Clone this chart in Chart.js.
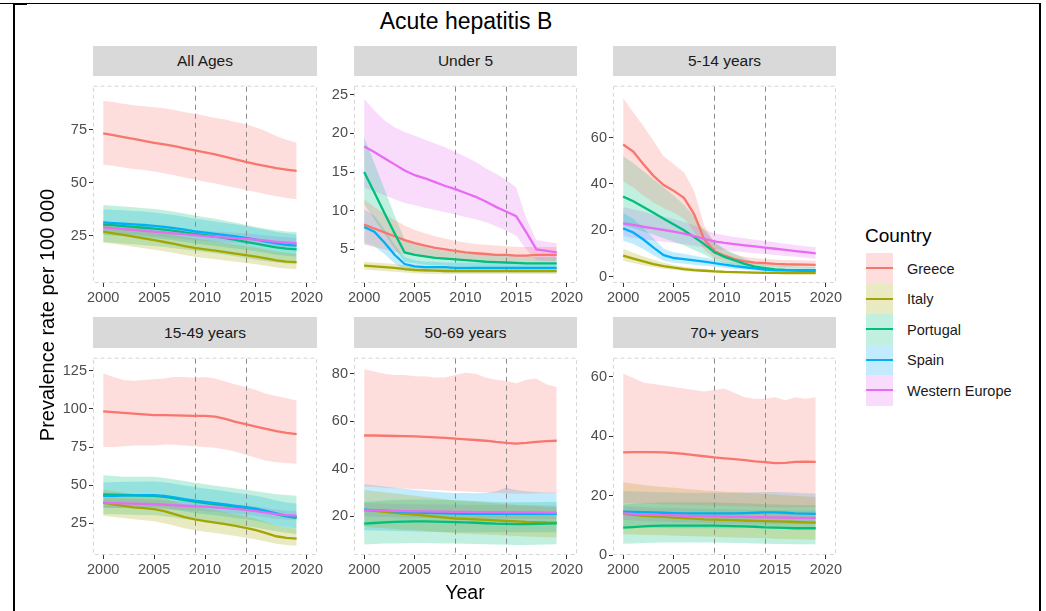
<!DOCTYPE html>
<html><head><meta charset="utf-8">
<script src="https://cdn.jsdelivr.net/npm/chart.js@4.4.1/dist/chart.umd.min.js"></script>
<style>
html,body{margin:0;padding:0;background:#fff;}
body{width:1046px;height:611px;position:relative;overflow:hidden;font-family:"Liberation Sans",Arial,sans-serif;}
.strip{position:absolute;background:#D9D9D9;color:#1A1A1A;font-size:15.5px;display:flex;align-items:center;justify-content:center;}
.cv{position:absolute;}
.txt{position:absolute;white-space:nowrap;color:#000;}
.ln{position:absolute;background:#000;}
</style></head><body>
<div class="ln" style="left:0;top:3px;width:1041px;height:1px;"></div>
<div class="ln" style="left:13px;top:3px;width:14px;height:2px;"></div>
<div class="ln" style="left:13px;top:3px;width:1.5px;height:608px;"></div>
<div class="ln" style="left:1039px;top:3px;width:2px;height:608px;"></div>
<div id="root"></div>
<script>
// ---------------- data ----------------
const years = [2000,2001,2002,2003,2004,2005,2006,2007,2008,2009,2010,2011,2012,2013,2014,2015,2016,2017,2018,2019];
const countries = ['Greece','Italy','Portugal','Spain','Western Europe'];
const countryColors = ['#F8766D','#A3A500','#00BF7D','#00B0F6','#E76BF3'];
const panelTitles = ['All Ages','Under 5','5-14 years','15-49 years','50-69 years','70+ years'];
const xTicks = [2000,2005,2010,2015,2020];
const refYears = [2009,2014];
const yTicksAllAges = [25,50,75];
const yTicksUnder5 = [5,10,15,20,25];
const yTicks5to14 = [0,20,40,60];
const yTicks15to49 = [25,50,75,100,125];
const yTicks50to69 = [20,40,60,80];
const yTicks70plus = [0,20,40,60];

// All Ages
const allAges_Greece    = [73.2,72.4,71.5,70.6,69.7,68.8,68.0,67.2,66.2,65.2,64.3,63.3,62.2,61.0,59.8,58.7,57.8,56.9,56.2,55.6];
const allAges_Greece_hi = [88.5,88.0,87.2,86.5,86.0,85.5,85.0,84.2,83.2,82.5,81.5,80.5,79.8,78.6,77.6,76.0,74.2,72.0,70.2,68.8];
const allAges_Greece_lo = [58.5,58.0,57.2,56.5,56.0,55.3,54.5,53.5,52.5,51.5,50.5,49.6,48.6,47.6,46.6,45.6,44.6,43.6,42.8,42.2];
const allAges_Italy     = [27.0,26.2,25.4,24.6,23.8,23.0,22.1,21.2,20.2,19.3,18.6,18.0,17.3,16.6,15.9,15.2,14.4,13.5,12.9,12.6];
const allAges_Italy_hi  = [31.5,30.6,29.8,29.0,28.2,27.4,26.5,25.6,24.6,23.7,23.0,22.4,21.6,20.9,20.2,19.5,18.6,17.6,17.0,16.6];
const allAges_Italy_lo  = [22.0,21.3,20.6,19.9,19.2,18.5,17.7,16.9,16.0,15.2,14.6,14.0,13.4,12.8,12.2,11.6,10.9,10.1,9.6,9.3];
const allAges_Portugal    = [30.3,30.0,29.6,29.2,28.8,28.4,27.9,27.3,26.6,25.9,25.3,24.6,23.9,23.1,22.2,21.3,20.4,19.6,19.0,18.6];
const allAges_Portugal_hi = [39.5,39.2,38.8,38.4,38.0,37.6,37.0,36.3,35.5,34.6,33.8,33.0,32.1,31.2,30.2,29.2,28.3,27.6,27.1,26.8];
const allAges_Portugal_lo = [22.0,21.7,21.3,21.0,20.6,20.2,19.7,19.2,18.6,18.0,17.4,16.8,16.1,15.4,14.6,13.8,13.0,12.4,12.0,11.7];
const allAges_Spain     = [31.3,31.0,30.7,30.4,30.1,29.7,29.2,28.6,27.9,27.1,26.5,25.9,25.3,24.7,24.0,23.2,22.3,21.4,20.8,20.4];
const allAges_Spain_hi  = [37.5,37.3,37.0,36.7,36.4,36.0,35.4,34.8,34.0,33.2,32.5,31.8,31.1,30.4,29.6,28.7,27.7,26.8,26.2,25.8];
const allAges_Spain_lo  = [25.5,25.2,24.9,24.6,24.3,23.9,23.4,22.8,22.1,21.4,20.8,20.2,19.6,19.0,18.4,17.7,16.9,16.1,15.6,15.2];
const allAges_WE        = [29.0,28.6,28.2,27.8,27.4,27.0,26.6,26.2,25.8,25.3,24.9,24.5,24.2,23.9,23.6,23.2,22.7,22.2,21.8,21.5];
const allAges_WE_hi     = [31.5,31.1,30.7,30.3,29.9,29.5,29.1,28.7,28.3,27.8,27.4,27.0,26.7,26.4,26.1,25.7,25.2,24.7,24.3,24.0];
const allAges_WE_lo     = [26.7,26.3,25.9,25.5,25.1,24.7,24.3,23.9,23.5,23.0,22.6,22.2,21.9,21.6,21.3,20.9,20.4,19.9,19.5,19.2];

// Under 5
const under5_Greece    = [8.2,7.7,7.2,6.7,6.2,5.8,5.5,5.2,5.0,4.8,4.6,4.5,4.4,4.3,4.3,4.2,4.2,4.3,4.3,4.3];
const under5_Greece_hi = [11.5,10.5,9.6,8.8,8.1,7.5,7.1,6.7,6.4,6.1,5.9,5.7,5.6,5.5,5.4,5.3,5.3,5.3,5.3,5.3];
const under5_Greece_lo = [5.6,5.3,5.0,4.7,4.4,4.2,4.0,3.9,3.8,3.7,3.6,3.5,3.5,3.4,3.4,3.4,3.4,3.4,3.4,3.4];
const under5_Italy     = [2.9,2.8,2.7,2.6,2.45,2.35,2.3,2.25,2.2,2.2,2.2,2.2,2.2,2.2,2.2,2.2,2.2,2.2,2.2,2.2];
const under5_Italy_hi  = [3.4,3.3,3.2,3.1,2.95,2.85,2.8,2.75,2.7,2.7,2.7,2.7,2.7,2.7,2.7,2.7,2.7,2.7,2.7,2.7];
const under5_Italy_lo  = [2.4,2.3,2.2,2.1,2.0,1.9,1.85,1.8,1.8,1.8,1.8,1.8,1.8,1.8,1.8,1.8,1.8,1.8,1.8,1.8];
const under5_Portugal    = [15.0,12.4,9.7,7.1,4.6,4.3,4.1,3.9,3.8,3.7,3.6,3.5,3.4,3.35,3.3,3.25,3.2,3.2,3.2,3.2];
const under5_Portugal_hi = [19.5,16.2,12.8,9.4,6.3,5.7,5.3,5.0,4.8,4.7,4.6,4.5,4.4,4.3,4.2,4.1,4.1,4.0,4.0,4.0];
const under5_Portugal_lo = [10.8,8.9,7.0,5.1,3.4,3.2,3.0,2.9,2.9,2.8,2.8,2.7,2.7,2.6,2.6,2.6,2.5,2.5,2.5,2.5];
const under5_Spain     = [7.9,7.3,5.9,4.3,3.1,2.8,2.7,2.7,2.7,2.6,2.6,2.6,2.6,2.6,2.6,2.6,2.6,2.6,2.6,2.6];
const under5_Spain_hi  = [10.2,9.4,7.6,5.6,4.0,3.6,3.4,3.4,3.3,3.3,3.3,3.3,3.3,3.3,3.3,3.3,3.3,3.3,3.3,3.3];
const under5_Spain_lo  = [5.8,5.4,4.4,3.2,2.3,2.1,2.1,2.1,2.0,2.0,2.0,2.0,2.0,2.0,2.0,2.0,2.0,2.0,2.0,2.0];
const under5_WE        = [18.3,17.6,16.8,16.0,15.2,14.6,14.2,13.7,13.2,12.8,12.3,11.8,11.2,10.5,9.9,9.3,7.2,5.0,4.8,4.6];
const under5_WE_hi     = [24.5,23.0,21.7,20.8,20.2,19.7,19.2,18.7,18.2,17.6,17.0,16.3,15.5,14.8,14.0,13.0,9.0,6.2,6.0,5.8];
const under5_WE_lo     = [13.0,12.5,12.0,11.5,11.0,10.7,10.4,10.1,9.8,9.5,9.2,8.9,8.5,8.0,7.4,6.8,5.0,3.6,3.5,3.5];

// 5-14 years
const age5to14_Greece    = [57.0,54.0,48.5,43.5,39.5,37.0,34.0,27.0,16.0,11.0,9.0,7.5,6.5,6.0,5.8,5.5,5.3,5.2,5.1,5.0];
const age5to14_Greece_hi = [77.0,71.0,65.0,58.5,52.0,48.5,45.0,37.0,22.0,14.5,11.5,9.5,8.5,8.0,7.6,7.3,7.1,7.0,6.9,6.8];
const age5to14_Greece_lo = [41.0,38.5,35.0,32.0,29.5,27.5,25.0,19.5,11.5,8.0,6.8,5.7,5.0,4.6,4.4,4.2,4.0,3.9,3.8,3.7];
const age5to14_Italy     = [9.0,7.7,6.5,5.4,4.5,3.8,3.2,2.8,2.5,2.2,2.0,1.9,1.8,1.7,1.6,1.6,1.5,1.5,1.5,1.5];
const age5to14_Italy_hi  = [12.0,10.3,8.7,7.2,6.0,5.0,4.2,3.7,3.3,2.9,2.6,2.5,2.3,2.2,2.1,2.1,2.0,2.0,2.0,2.0];
const age5to14_Italy_lo  = [6.8,5.8,4.9,4.1,3.4,2.9,2.4,2.1,1.9,1.7,1.5,1.4,1.3,1.2,1.2,1.1,1.1,1.1,1.1,1.1];
const age5to14_Portugal    = [34.5,32.5,30.0,27.5,25.0,22.5,20.0,17.0,14.0,10.5,8.5,7.0,5.5,4.3,3.6,3.1,2.9,2.8,2.8,2.8];
const age5to14_Portugal_hi = [52.0,49.0,45.5,42.0,38.5,35.0,31.0,26.0,20.0,15.0,12.0,9.8,7.8,6.3,5.4,4.8,4.5,4.3,4.2,4.1];
const age5to14_Portugal_lo = [22.0,21.0,19.5,18.0,16.5,15.0,13.5,11.5,9.5,7.2,5.8,4.8,3.8,3.0,2.5,2.2,2.0,1.9,1.9,1.9];
const age5to14_Spain     = [20.8,19.0,16.0,12.5,9.2,8.0,7.5,7.0,6.4,5.8,5.1,4.5,4.0,3.5,3.0,2.8,2.7,2.6,2.5,2.5];
const age5to14_Spain_hi  = [27.5,25.0,21.0,16.5,12.0,10.5,9.8,9.0,8.2,7.4,6.5,5.8,5.2,4.5,3.9,3.6,3.4,3.3,3.2,3.2];
const age5to14_Spain_lo  = [15.5,14.0,11.8,9.2,6.8,5.9,5.5,5.1,4.7,4.3,3.8,3.3,2.9,2.6,2.2,2.0,1.9,1.9,1.8,1.8];
const age5to14_WE        = [23.0,22.3,21.5,20.8,20.1,19.4,18.5,17.5,16.3,15.2,14.5,14.0,13.5,13.0,12.5,12.0,11.5,11.0,10.5,10.0];
const age5to14_WE_hi     = [30.0,29.0,28.0,26.8,25.8,24.8,23.5,22.0,20.3,18.7,17.8,17.1,16.5,15.9,15.3,14.8,14.2,13.6,13.1,12.6];
const age5to14_WE_lo     = [17.5,16.8,16.2,15.6,15.0,14.5,13.9,13.3,12.5,11.8,11.3,10.9,10.5,10.1,9.7,9.3,8.9,8.5,8.1,7.7];

// 15-49 years
const age15to49_Greece    = [98.5,98.0,97.5,97.0,96.5,96.0,96.0,95.8,95.6,95.5,95.5,95.0,93.5,91.5,90.0,88.5,87.0,85.5,84.3,83.5];
const age15to49_Greece_hi = [123.5,121.0,119.0,118.5,119.0,119.5,120.0,121.0,121.0,120.5,121.0,120.0,118.0,116.0,114.5,112.5,110.0,108.5,107.0,105.5];
const age15to49_Greece_lo = [75.0,75.0,75.5,76.0,76.0,76.0,76.5,76.5,76.0,75.5,75.0,74.5,73.5,72.0,70.0,68.0,66.0,65.0,64.5,64.0];
const age15to49_Italy     = [38.5,37.5,36.5,35.5,35.0,34.3,33.0,31.0,29.0,27.5,26.5,25.5,24.5,23.3,22.0,20.5,18.5,16.5,15.5,15.0];
const age15to49_Italy_hi  = [47.0,46.0,45.0,44.0,43.3,42.6,41.2,39.2,37.2,35.6,34.5,33.5,32.3,31.0,29.6,28.0,25.8,23.5,22.2,21.5];
const age15to49_Italy_lo  = [30.0,29.2,28.4,27.6,27.0,26.3,25.1,23.4,21.7,20.4,19.5,18.6,17.7,16.7,15.6,14.4,13.0,11.6,10.8,10.3];
const age15to49_Portugal    = [44.0,43.8,43.6,43.4,43.2,43.0,42.3,41.3,40.2,39.2,38.3,37.5,36.7,35.8,35.0,34.0,32.5,31.0,29.5,28.5];
const age15to49_Portugal_hi = [56.5,56.0,55.5,55.5,55.5,55.5,54.8,53.8,52.7,51.6,50.6,49.7,48.8,47.8,47.0,46.0,45.0,44.0,43.5,43.0];
const age15to49_Portugal_lo = [31.0,31.0,30.8,30.6,30.4,30.2,29.6,28.8,27.8,27.0,26.2,25.5,24.8,24.0,23.2,22.3,21.0,19.8,18.8,18.0];
const age15to49_Spain     = [43.0,43.0,43.2,43.3,43.4,43.5,43.0,42.0,40.8,39.8,39.0,38.2,37.4,36.5,35.6,34.6,33.2,31.5,29.8,29.0];
const age15to49_Spain_hi  = [52.0,52.0,52.2,52.3,52.4,52.5,52.0,51.0,49.8,48.8,47.9,47.0,46.1,45.1,44.1,43.0,41.6,40.0,38.6,38.0];
const age15to49_Spain_lo  = [35.0,35.0,35.2,35.3,35.4,35.5,35.0,34.0,32.8,31.8,31.0,30.2,29.4,28.5,27.6,26.6,25.2,23.6,22.4,21.8];
const age15to49_WE        = [38.5,38.3,38.1,37.9,37.7,37.5,37.2,36.8,36.5,36.2,35.9,35.5,35.0,34.4,33.8,33.0,32.0,31.0,30.3,30.0];
const age15to49_WE_hi     = [41.5,41.3,41.1,40.9,40.7,40.5,40.2,39.8,39.5,39.2,38.9,38.5,38.0,37.4,36.8,36.0,35.0,34.0,33.3,33.0];
const age15to49_WE_lo     = [35.5,35.3,35.1,34.9,34.7,34.5,34.2,33.8,33.5,33.2,32.9,32.5,32.0,31.4,30.8,30.0,29.0,28.0,27.3,27.0];

// 50-69 years
const age50to69_Greece    = [54.0,54.0,53.9,53.8,53.7,53.6,53.4,53.2,53.0,52.7,52.4,52.1,51.8,51.3,50.9,50.6,50.9,51.3,51.6,51.8];
const age50to69_Greece_hi = [82.0,81.0,80.0,79.5,79.5,79.0,79.0,78.5,78.5,79.5,80.5,80.0,78.5,77.5,77.0,76.0,77.5,78.0,75.5,74.5];
const age50to69_Greece_lo = [32.5,32.3,32.0,31.8,31.6,31.4,31.2,31.0,30.8,30.6,30.4,30.2,30.0,29.8,29.6,29.4,29.4,29.5,29.6,29.7];
const age50to69_Italy     = [22.5,22.2,21.8,21.4,21.0,20.6,20.2,19.8,19.4,19.0,18.8,18.6,18.4,18.2,18.0,17.8,17.6,17.5,17.3,17.2];
const age50to69_Italy_hi  = [31.0,30.6,30.1,29.6,29.1,28.6,28.1,27.6,27.1,26.6,26.3,26.0,25.7,25.4,25.1,24.8,24.5,24.3,24.0,23.8];
const age50to69_Italy_lo  = [15.5,15.2,14.9,14.6,14.3,14.0,13.7,13.4,13.1,12.8,12.6,12.4,12.2,12.0,11.8,11.6,11.4,11.3,11.1,11.0];
const age50to69_Portugal    = [16.8,17.1,17.4,17.6,17.7,17.8,17.8,17.7,17.6,17.5,17.4,17.2,17.0,16.8,16.7,16.6,16.6,16.7,16.8,16.9];
const age50to69_Portugal_hi = [26.0,26.3,26.6,26.8,26.9,27.0,27.0,26.9,26.8,26.7,26.6,26.4,26.2,26.0,25.9,25.8,25.8,25.9,26.0,26.1];
const age50to69_Portugal_lo = [8.0,8.2,8.4,8.5,8.6,8.7,8.7,8.6,8.5,8.4,8.3,8.2,8.1,8.0,7.9,7.8,7.8,7.9,8.0,8.1];
const age50to69_Spain     = [22.7,22.5,22.3,22.0,21.8,21.6,21.4,21.3,21.2,21.1,21.0,21.0,21.0,21.0,21.0,21.0,21.0,21.0,21.0,21.0];
const age50to69_Spain_hi  = [33.5,33.0,32.5,32.0,31.5,31.0,30.6,30.3,30.0,29.8,29.7,29.6,29.8,30.5,32.0,31.0,30.5,30.2,30.0,30.0];
const age50to69_Spain_lo  = [14.0,13.9,13.8,13.7,13.6,13.5,13.4,13.3,13.3,13.2,13.2,13.2,13.2,13.2,13.2,13.2,13.2,13.2,13.2,13.2];
const age50to69_WE        = [22.5,22.4,22.3,22.2,22.1,22.0,22.0,21.9,21.9,21.8,21.8,21.7,21.7,21.7,21.6,21.6,21.6,21.6,21.5,21.5];
const age50to69_WE_hi     = [25.5,25.4,25.3,25.2,25.1,25.0,25.0,24.9,24.9,24.8,24.8,24.7,24.7,24.7,24.6,24.6,24.6,24.6,24.5,24.5];
const age50to69_WE_lo     = [19.8,19.7,19.6,19.5,19.4,19.3,19.3,19.2,19.2,19.1,19.1,19.0,19.0,19.0,18.9,18.9,18.9,18.9,18.8,18.8];

// 70+ years
const age70plus_Greece    = [34.5,34.6,34.6,34.6,34.5,34.3,34.0,33.6,33.2,32.8,32.5,32.2,31.9,31.5,31.2,30.9,31.0,31.3,31.4,31.3];
const age70plus_Greece_hi = [61.0,59.5,58.0,57.5,57.0,56.5,56.0,55.5,55.0,55.5,56.0,54.5,53.0,52.5,52.5,53.0,52.0,53.0,52.5,53.0];
const age70plus_Greece_lo = [17.5,17.4,17.3,17.2,17.1,17.0,16.9,16.8,16.7,16.6,16.5,16.4,16.3,16.2,16.1,16.0,16.0,16.0,16.0,16.0];
const age70plus_Italy     = [13.8,13.5,13.2,13.0,12.8,12.6,12.4,12.2,12.0,11.9,11.8,11.7,11.6,11.5,11.4,11.3,11.2,11.1,11.0,10.9];
const age70plus_Italy_hi  = [24.5,24.0,23.5,23.2,22.9,22.6,22.3,22.0,21.7,21.5,21.3,21.1,20.9,20.7,20.5,20.3,20.1,19.9,19.7,19.5];
const age70plus_Italy_lo  = [7.0,6.9,6.8,6.7,6.6,6.5,6.4,6.3,6.2,6.1,6.0,5.9,5.8,5.7,5.6,5.5,5.4,5.3,5.2,5.1];
const age70plus_Portugal    = [9.2,9.4,9.6,9.8,9.9,9.9,9.9,9.9,9.9,9.9,9.8,9.7,9.6,9.5,9.3,9.2,9.1,9.0,9.0,9.0];
const age70plus_Portugal_hi = [17.0,17.2,17.4,17.6,17.7,17.7,17.7,17.7,17.7,17.7,17.6,17.5,17.4,17.3,17.1,17.0,16.9,16.8,16.8,16.8];
const age70plus_Portugal_lo = [3.8,3.9,4.0,4.1,4.2,4.2,4.2,4.2,4.2,4.2,4.1,4.0,4.0,3.9,3.8,3.7,3.7,3.6,3.6,3.6];
const age70plus_Spain     = [14.6,14.5,14.4,14.3,14.2,14.1,14.0,14.0,14.0,14.0,14.0,14.0,14.1,14.2,14.3,14.3,14.2,14.0,13.9,13.8];
const age70plus_Spain_hi  = [21.5,21.4,21.3,21.2,21.1,21.0,20.9,20.9,20.9,20.9,20.9,20.9,21.0,21.1,21.2,21.2,21.1,20.9,20.8,20.7];
const age70plus_Spain_lo  = [9.5,9.4,9.3,9.2,9.1,9.0,9.0,9.0,9.0,9.0,9.0,9.0,9.1,9.2,9.3,9.3,9.2,9.0,8.9,8.8];
const age70plus_WE        = [14.0,13.8,13.6,13.5,13.4,13.3,13.2,13.1,13.0,13.0,12.9,12.8,12.8,12.7,12.7,12.6,12.6,12.5,12.5,12.5];
const age70plus_WE_hi     = [16.5,16.3,16.1,16.0,15.9,15.8,15.7,15.6,15.5,15.5,15.4,15.3,15.3,15.2,15.2,15.1,15.1,15.0,15.0,15.0];
const age70plus_WE_lo     = [11.8,11.6,11.4,11.3,11.2,11.1,11.0,10.9,10.8,10.8,10.7,10.6,10.6,10.5,10.5,10.4,10.4,10.3,10.3,10.3];

// ---------------- panels (data references) ----------------
const panels = [
  {title: panelTitles[0], yTicks: yTicksAllAges, yMin: 2.8, yMax: 95.2, series: [
    [allAges_Greece, allAges_Greece_lo, allAges_Greece_hi],
    [allAges_Italy, allAges_Italy_lo, allAges_Italy_hi],
    [allAges_Portugal, allAges_Portugal_lo, allAges_Portugal_hi],
    [allAges_Spain, allAges_Spain_lo, allAges_Spain_hi],
    [allAges_WE, allAges_WE_lo, allAges_WE_hi]]},
  {title: panelTitles[1], yTicks: yTicksUnder5, yMin: 0.65, yMax: 26.05, series: [
    [under5_Greece, under5_Greece_lo, under5_Greece_hi],
    [under5_Italy, under5_Italy_lo, under5_Italy_hi],
    [under5_Portugal, under5_Portugal_lo, under5_Portugal_hi],
    [under5_Spain, under5_Spain_lo, under5_Spain_hi],
    [under5_WE, under5_WE_lo, under5_WE_hi]]},
  {title: panelTitles[2], yTicks: yTicks5to14, yMin: -2.8, yMax: 82, series: [
    [age5to14_Greece, age5to14_Greece_lo, age5to14_Greece_hi],
    [age5to14_Italy, age5to14_Italy_lo, age5to14_Italy_hi],
    [age5to14_Portugal, age5to14_Portugal_lo, age5to14_Portugal_hi],
    [age5to14_Spain, age5to14_Spain_lo, age5to14_Spain_hi],
    [age5to14_WE, age5to14_WE_lo, age5to14_WE_hi]]},
  {title: panelTitles[3], yTicks: yTicks15to49, yMin: 4.2, yMax: 133, series: [
    [age15to49_Greece, age15to49_Greece_lo, age15to49_Greece_hi],
    [age15to49_Italy, age15to49_Italy_lo, age15to49_Italy_hi],
    [age15to49_Portugal, age15to49_Portugal_lo, age15to49_Portugal_hi],
    [age15to49_Spain, age15to49_Spain_lo, age15to49_Spain_hi],
    [age15to49_WE, age15to49_WE_lo, age15to49_WE_hi]]},
  {title: panelTitles[4], yTicks: yTicks50to69, yMin: 3.6, yMax: 86.4, series: [
    [age50to69_Greece, age50to69_Greece_lo, age50to69_Greece_hi],
    [age50to69_Italy, age50to69_Italy_lo, age50to69_Italy_hi],
    [age50to69_Portugal, age50to69_Portugal_lo, age50to69_Portugal_hi],
    [age50to69_Spain, age50to69_Spain_lo, age50to69_Spain_hi],
    [age50to69_WE, age50to69_WE_lo, age50to69_WE_hi]]},
  {title: panelTitles[5], yTicks: yTicks70plus, yMin: 0, yMax: 66, series: [
    [age70plus_Greece, age70plus_Greece_lo, age70plus_Greece_hi],
    [age70plus_Italy, age70plus_Italy_lo, age70plus_Italy_hi],
    [age70plus_Portugal, age70plus_Portugal_lo, age70plus_Portugal_hi],
    [age70plus_Spain, age70plus_Spain_lo, age70plus_Spain_hi],
    [age70plus_WE, age70plus_WE_lo, age70plus_WE_hi]]}
];

// ---------------- layout ----------------
const FONT = '"Liberation Sans", Arial, sans-serif';
const colX = [[93,317],[354,577],[613,836]];
const rowY = [[76,283],[348,555]];
const stripTop = [46,317];
const YW = 40, XH = 30, PADR = 24;
const root = document.getElementById('root');

function rgba(hex, a){
  const n = parseInt(hex.slice(1),16);
  return `rgba(${(n>>16)&255},${(n>>8)&255},${n&255},${a})`;
}
function el(tag, cls, style, text){
  const d = document.createElement(tag);
  if (cls) d.className = cls;
  Object.assign(d.style, style);
  if (text != null) d.textContent = text;
  root.appendChild(d);
  return d;
}

const panelFrame = {
  id: 'panelFrame',
  beforeDatasetsDraw(chart){
    const {ctx, chartArea: a, scales: {x}} = chart;
    ctx.save();
    ctx.lineWidth = 1;
    ctx.setLineDash([4,3]);
    ctx.strokeStyle = '#d6d6d6';
    ctx.strokeRect(a.left + 0.5, a.top - 0.5, a.right - a.left - 1, a.bottom - a.top);
    ctx.setLineDash([5,4]);
    ctx.strokeStyle = '#8a8a8a';
    refYears.forEach(yr => {
      const px = Math.round(x.getPixelForValue(yr)) + 0.5;
      ctx.beginPath(); ctx.moveTo(px, a.top); ctx.lineTo(px, a.bottom); ctx.stroke();
    });
    ctx.restore();
  }
};

panels.forEach((p, i) => {
  const c = i % 3, r = Math.floor(i / 3);
  const [pl, pr] = colX[c], [pt, pb] = rowY[r];
  // strip
  el('div', 'strip', {left: pl + 'px', top: stripTop[r] + 'px', width: (pr - pl) + 'px', height: (pt - stripTop[r]) + 'px'}, p.title);
  // canvas
  const W = YW + (pr - pl) + PADR, H = (pb - pt) + XH;
  const cv = el('canvas', 'cv', {left: (pl - YW) + 'px', top: pt + 'px', width: W + 'px', height: H + 'px'});
  cv.width = W; cv.height = H;

  const datasets = [];
  p.series.forEach((s, k) => {
    const col = countryColors[k];
    datasets.push({label: countries[k] + ' hi', data: years.map((y, j) => ({x: y, y: s[2][j]})),
      borderColor: 'rgba(0,0,0,0)', borderWidth: 0, pointRadius: 0, fill: '+1',
      backgroundColor: rgba(col, 0.24), order: 2});
    datasets.push({label: countries[k] + ' lo', data: years.map((y, j) => ({x: y, y: s[1][j]})),
      borderColor: 'rgba(0,0,0,0)', borderWidth: 0, pointRadius: 0, fill: false, order: 2});
  });
  p.series.forEach((s, k) => {
    datasets.push({label: countries[k], data: years.map((y, j) => ({x: y, y: s[0][j]})),
      borderColor: countryColors[k], borderWidth: 2.3, pointRadius: 0, fill: false, order: 1 - k * 0.01});
  });

  const axisCommon = {
    grid: {display: true, drawOnChartArea: false, drawTicks: true, tickLength: 4, tickColor: '#333333', tickWidth: 1},
    border: {display: false}
  };
  new Chart(cv, {
    type: 'line',
    data: {datasets},
    plugins: [panelFrame],
    options: {
      responsive: false, animation: false, devicePixelRatio: 1,
      layout: {padding: {left: 0, right: PADR, top: 0, bottom: 0}},
      plugins: {legend: {display: false}, tooltip: {enabled: false}, filler: {drawTime: 'beforeDatasetsDraw'}},
      elements: {line: {tension: 0}, point: {radius: 0}},
      scales: {
        x: Object.assign({}, axisCommon, {
          type: 'linear', min: 1999, max: 2021,
          afterBuildTicks: s => { s.ticks = xTicks.map(v => ({value: v})); },
          afterFit: s => { s.height = XH; },
          ticks: {autoSkip: false, maxRotation: 0, minRotation: 0, padding: 2, color: '#4D4D4D',
                  font: {family: FONT, size: 14.5}, callback: v => String(v)}
        }),
        y: Object.assign({}, axisCommon, {
          type: 'linear', min: p.yMin, max: p.yMax,
          afterBuildTicks: s => { s.ticks = p.yTicks.map(v => ({value: v})); },
          afterFit: s => { s.width = YW; },
          ticks: {padding: 2, color: '#4D4D4D', font: {family: FONT, size: 14.5}, callback: v => String(v)}
        })
      }
    }
  });
});

// titles
el('div', 'txt', {left: '466px', top: '10px', transform: 'translateX(-50%)', fontSize: '23px', lineHeight: '23px', color: '#000'}, 'Acute hepatitis B');
el('div', 'txt', {left: '465px', top: '582px', transform: 'translateX(-50%)', fontSize: '19.5px', lineHeight: '20px'}, 'Year');
el('div', 'txt', {left: (47 - 200) + 'px', top: (315 - 12) + 'px', width: '400px', height: '24px', lineHeight: '24px',
  textAlign: 'center', fontSize: '20px', transform: 'rotate(-90deg)'}, 'Prevalence rate per 100 000');

// legend
el('div', 'txt', {left: '865px', top: '226px', fontSize: '19px', lineHeight: '20px'}, 'Country');
countries.forEach((name, k) => {
  const top = 253 + k * 30.5;
  el('div', '', {position: 'absolute', left: '866px', top: top + 'px', width: '27px', height: '30.5px', background: rgba(countryColors[k], 0.24)});
  el('div', '', {position: 'absolute', left: '866px', top: (top + 14.2) + 'px', width: '27px', height: '2.3px', background: countryColors[k]});
  el('div', 'txt', {left: '907px', top: (top + 7.5) + 'px', fontSize: '14.5px', lineHeight: '16px', color: '#1a1a1a'}, name);
});
</script>
</body></html>
